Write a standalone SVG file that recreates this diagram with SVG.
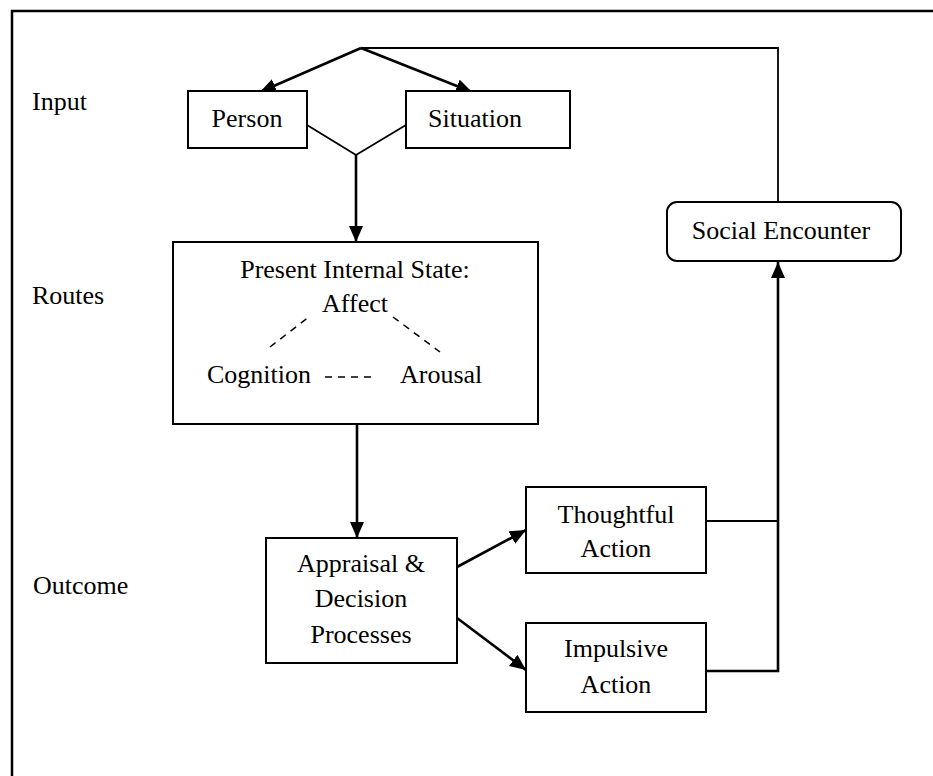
<svg xmlns="http://www.w3.org/2000/svg" width="933" height="776" viewBox="0 0 933 776">
<style>
  text { font-family: "Liberation Serif", "Times New Roman", serif; font-size: 26px; fill: #000; }
  .c { text-anchor: middle; }
  .box { fill: #fff; stroke: #000; stroke-width: 2; }
  .ln { fill: none; stroke: #000; stroke-width: 1.8; }
  .ar { fill: none; stroke: #000; stroke-width: 2.6; }
  .dash { fill: none; stroke: #000; stroke-width: 1.5; stroke-dasharray: 7 6; }
</style>
<defs>
  <marker id="ah" markerUnits="userSpaceOnUse" markerWidth="18" markerHeight="16" refX="16" refY="7" orient="auto">
    <path d="M0,0 L16,7 L0,14 z" fill="#000"/>
  </marker>
</defs>
<rect x="0" y="0" width="933" height="776" fill="#fff"/>
<rect id="frame" x="12" y="11" width="960" height="800" fill="none" stroke="#000" stroke-width="2.5"/>

<g id="labels">
  <text x="32" y="110">Input</text>
  <text x="32" y="304">Routes</text>
  <text x="33" y="594">Outcome</text>
</g>

<g id="connectors">
  <polyline class="ln" points="778,202 778,48 361,48"/>
  <line class="ar" x1="361" y1="48" x2="260" y2="92" marker-end="url(#ah)"/>
  <line class="ar" x1="361" y1="48" x2="472" y2="92" marker-end="url(#ah)"/>
  <polyline class="ln" points="307,125 356,155 406,125"/>
  <line class="ar" x1="356" y1="155" x2="356" y2="242" marker-end="url(#ah)"/>
  <line class="ar" x1="357" y1="424" x2="357" y2="538" marker-end="url(#ah)"/>
  <line class="ar" x1="457" y1="567" x2="526" y2="530" marker-end="url(#ah)"/>
  <line class="ar" x1="457" y1="618" x2="526" y2="670" marker-end="url(#ah)"/>
  <line class="ln" x1="706" y1="521" x2="778" y2="521"/>
  <polyline class="ar" points="706,671 778,671 778,262" marker-end="url(#ah)"/>
</g>

<g id="person">
  <rect class="box" x="188" y="91" width="119" height="57"/>
  <text class="c" x="247" y="127">Person</text>
</g>
<g id="situation">
  <rect class="box" x="406" y="91" width="164" height="57"/>
  <text class="c" x="475" y="127">Situation</text>
</g>
<g id="internal-state">
  <rect class="box" x="173" y="242" width="365" height="182"/>
  <text class="c" x="355" y="278">Present Internal State:</text>
  <text class="c" x="355" y="312">Affect</text>
  <text x="207" y="383">Cognition</text>
  <text x="400" y="383">Arousal</text>
  <line class="dash" x1="270" y1="347" x2="310" y2="316"/>
  <line class="dash" x1="393" y1="317" x2="440" y2="352"/>
  <line class="dash" x1="325" y1="377" x2="376" y2="377"/>
</g>
<g id="appraisal">
  <rect class="box" x="266" y="538" width="191" height="125"/>
  <text class="c" x="361" y="572">Appraisal &amp;</text>
  <text class="c" x="361" y="607">Decision</text>
  <text class="c" x="361" y="643">Processes</text>
</g>
<g id="thoughtful">
  <rect class="box" x="526" y="487" width="180" height="86"/>
  <text class="c" x="616" y="523">Thoughtful</text>
  <text class="c" x="616" y="557">Action</text>
</g>
<g id="impulsive">
  <rect class="box" x="526" y="623" width="180" height="89"/>
  <text class="c" x="616" y="657">Impulsive</text>
  <text class="c" x="616" y="693">Action</text>
</g>
<g id="social-encounter">
  <rect class="box" x="667" y="202" width="234" height="59" rx="10" ry="10"/>
  <text class="c" x="781" y="239">Social Encounter</text>
</g>
</svg>
